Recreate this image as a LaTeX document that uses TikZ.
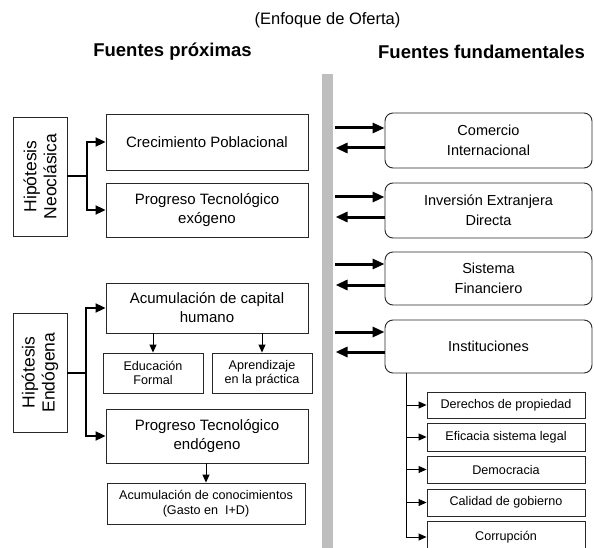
\documentclass[tikz,border=0pt]{standalone}
\usepackage{fontspec}
\setmainfont{Liberation Sans}
\usetikzlibrary{arrows.meta}
\definecolor{bargray}{RGB}{190,190,190}
\definecolor{edge}{RGB}{40,40,40}
\begin{document}
\begin{tikzpicture}[x=1pt,y=-1pt,
  box/.style={draw=edge, line width=0.9pt, inner sep=0pt, align=center, font=\fontsize{15}{19}\selectfont, minimum width=202pt},
  rbox/.style={draw=edge, line width=0.9pt, rounded corners=8pt, inner sep=0pt, align=center, font=\fontsize{14.5}{20}\selectfont, minimum width=207pt},
  sbox/.style={draw=edge, line width=0.9pt, inner sep=0pt, align=center, font=\fontsize{12.6}{14.5}\selectfont},
  hbox/.style={draw=edge, line width=0.9pt, minimum width=54pt, minimum height=119pt, inner sep=0pt},
  htext/.style={rotate=90, align=center, inner sep=0pt, font=\fontsize{17.5}{20}\selectfont},
  medline/.style={line width=2pt},
  medarr/.style={line width=2pt, -{Triangle[length=10pt,width=9pt]}},
  bigarr/.style={line width=3pt, -{Triangle[length=12pt,width=10pt]}},
  bigarrR/.style={line width=3pt, {Triangle[length=12pt,width=10pt]}-},
  thinarr/.style={line width=0.9pt, -{Triangle[length=8pt,width=7pt]}},
]
\useasboundingbox (0,0) rectangle (594,548);
\clip (0,0) rectangle (594,548);

% titles
\node[font=\fontsize{16.5}{20}\selectfont] (title) at (327.5,20) {(Enfoque de Oferta)};
\node[font=\bfseries\fontsize{18.5}{22}\selectfont] (hl) at (172.5,52) {Fuentes próximas};
\node[font=\bfseries\fontsize{18.5}{22}\selectfont] (hr) at (481.5,52) {Fuentes fundamentales};

% gray divider
\node[fill=bargray, minimum width=11pt, minimum height=490pt, inner sep=0pt, anchor=north] (bar) at (327.5,74) {};

% Neoclasica
\node[hbox] (neo) at (40,176.5) {};
\node[htext] (neot) at (neo.center) {Hipótesis\\Neoclásica};
\node[box, minimum height=56pt] (crec) at (207,142) {Crecimiento Poblacional};
\node[box, minimum height=54pt] (pte) at (207,210) {Progreso Tecnológico\\exógeno};
\draw[medline] (neo.east) -- ++(20pt,0) coordinate (nj);
\draw[medarr] (nj) |- (crec.west);
\draw[medarr] (nj) |- (pte.west);

% Endogena
\node[hbox] (endo) at (40,372.5) {};
\node[htext] (endot) at (endo.center) {Hipótesis\\Endógena};
\node[box, minimum height=50pt] (ach) at (207,308) {Acumulación de capital\\humano};
\node[sbox, minimum width=100pt, minimum height=40pt] (edu) at (153,373) {Educación\\Formal};
\node[sbox, minimum width=100pt, minimum height=40pt] (apr) at (262,373) {Aprendizaje\\en la práctica};
\node[box, minimum height=54pt] (pten) at (207,436) {Progreso Tecnológico\\endógeno};
\node[sbox, minimum width=198pt, minimum height=41pt] (acc) at (206,503.5) {Acumulación de conocimientos\\(Gasto en\ \ I+D)};
\draw[medline] (endo.east) -- ++(19pt,0) coordinate (ej);
\draw[medarr] (ej) |- (ach.west);
\draw[medarr] (ej) |- (pten.west);
\draw[thinarr] (ach.south -| edu.north) -- (edu.north);
\draw[thinarr] (ach.south -| apr.north) -- (apr.north);
\draw[thinarr] (pten.south -| acc.north) -- (acc.north);

% right side
\node[rbox, minimum height=55pt] (com) at (488.5,140.5) {Comercio\\Internacional};
\node[rbox, minimum height=55pt] (ied) at (488.5,210.5) {Inversión Extranjera\\Directa};
\node[rbox, minimum height=53pt] (sf) at (488.5,278.5) {Sistema\\Financiero};
\node[rbox, minimum height=53pt] (inst) at (488.5,346.5) {Instituciones};

\draw[bigarrR] ([yshift=12.5pt]com.west) -- ++(-50pt,0);
\draw[bigarr] ([yshift=-7.5pt]com.west) -- ++(-49pt,0);
\draw[bigarrR] ([yshift=13.5pt]ied.west) -- ++(-50pt,0);
\draw[bigarr] ([yshift=-6.5pt]ied.west) -- ++(-49pt,0);
\draw[bigarrR] ([yshift=14.5pt]sf.west) -- ++(-50pt,0);
\draw[bigarr] ([yshift=-6.5pt]sf.west) -- ++(-49pt,0);
\draw[bigarrR] ([yshift=14.5pt]inst.west) -- ++(-50pt,0);
\draw[bigarr] ([yshift=-5.5pt]inst.west) -- ++(-49pt,0);

% institutions subtree
\coordinate (tr) at ([xshift=22pt]inst.south west);
\node[sbox, minimum width=158pt, minimum height=26pt] (der) at (506,405) {Derechos de propiedad};
\node[sbox, minimum width=158pt, minimum height=28pt] (efi) at (506,437) {Eficacia sistema legal};
\node[sbox, minimum width=158pt, minimum height=27pt] (dem) at (506,469.5) {Democracia};
\node[sbox, minimum width=158pt, minimum height=27pt] (cal) at (506,502.5) {Calidad de gobierno};
\node[sbox, minimum width=158pt, minimum height=32pt] (cor) at (506,537) {Corrupción};
\draw[thinarr] (tr) |- (cor.west);
\foreach \n in {der,efi,dem,cal} \draw[thinarr] (tr |- \n.west) -- (\n.west);
\end{tikzpicture}
\end{document}
